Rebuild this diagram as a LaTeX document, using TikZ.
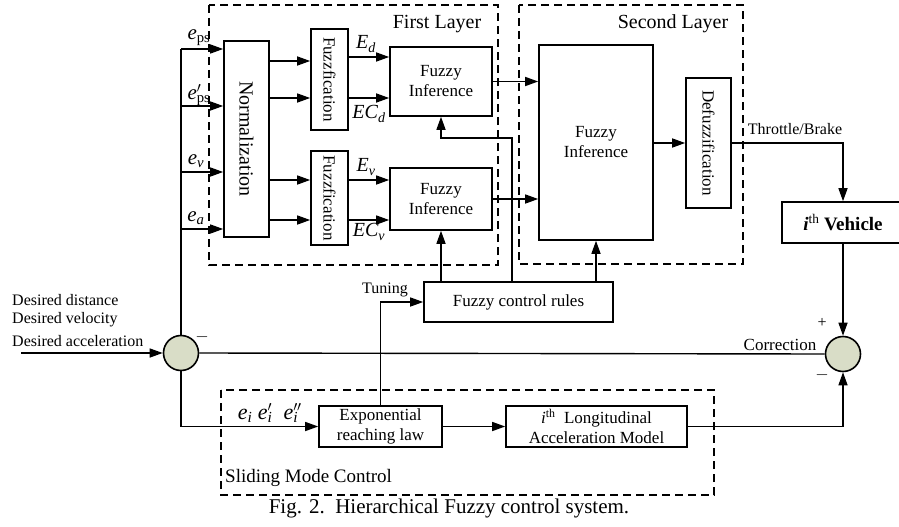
\documentclass[tikz,border=0pt]{standalone}
\usepackage{fontspec}
\setmainfont{Liberation Serif}
\usetikzlibrary{arrows.meta,calc}
\definecolor{sumfill}{RGB}{217,221,199}
\newcommand\fs[2]{\fontsize{#1}{#2}\selectfont}
\begin{document}
\begin{tikzpicture}[x=1pt,y=-1pt,
  box/.style={draw, line width=1.6pt, inner sep=0pt, align=center},
  conn/.style={line width=1.4pt},
  arr/.style={conn, -{Triangle[length=13pt,width=9pt]}},
  grp/.style={draw, line width=1.3pt, dash pattern=on 8pt off 5pt},
  sumnode/.style={draw, circle, fill=sumfill, line width=1.6pt, minimum size=35pt, inner sep=0pt},
  lbl/.style={inner sep=0pt},
]
\useasboundingbox (0,0) rectangle (899,527);

% dashed groups
\draw[grp] (209,5) rectangle (498,265);
\draw[grp] (519,5) rectangle (743,264);
\draw[grp] (221,390) rectangle (714,495);
\node[lbl, font=\fs{20}{24}] (l1) at (437,24) {First Layer};
\node[lbl, font=\fs{20}{24}] (l2) at (673,24) {Second Layer};
\node[lbl, font=\fs{19}{22}, anchor=west] (l3) at (225,478) {Sliding Mode Control};

% boxes
\node[box, minimum width=45pt, minimum height=196pt] (norm) at (246.5,139) {};
\node[lbl, rotate=-90, font=\fs{20}{24}] (normt) at (norm.center) {Normalization};
\node[box, minimum width=37pt, minimum height=101pt] (fz1) at (329.5,79.5) {};
\node[lbl, rotate=-90, font=\fs{17}{20}] (fz1t) at (fz1.center) {Fuzzfication};
\node[box, minimum width=37pt, minimum height=94pt] (fz2) at (329.5,198) {};
\node[lbl, rotate=-90, font=\fs{17}{20}] (fz2t) at (fz2.center) {Fuzzfication};
\node[box, font=\fs{17}{20}, minimum width=102pt, minimum height=69pt] (fi1) at (441,81.5) {Fuzzy\\Inference};
\node[box, font=\fs{17}{20}, minimum width=102pt, minimum height=62pt] (fi2) at (441,199) {Fuzzy\\Inference};
\node[box, font=\fs{17}{20}, minimum width=114pt, minimum height=195pt] (fi3) at (596,142.5) {Fuzzy\\Inference};
\node[box, minimum width=45pt, minimum height=130pt] (defz) at (708.5,143) {};
\node[lbl, rotate=-90, font=\fs{17}{20}] (defzt) at (defz.center) {Defuzzification};
\node[box, minimum width=122pt, minimum height=41pt] (veh) at (843,222.5) {};
\node[lbl, font=\fs{19}{22}] (veht) at (843,222.5) {\textbf{\textit{i}}\textsuperscript{th} \textbf{Vehicle}};
\node[box, font=\fs{17}{20}, minimum width=189pt, minimum height=40pt] (rules) at (518.5,302) {Fuzzy control rules};
\node[box, font=\fs{17}{20}, minimum width=123pt, minimum height=41pt] (expo) at (380.5,426.5) {Exponential\\reaching law};
\node[box, font=\fs{17}{20}, minimum width=181pt, minimum height=41pt] (lon) at (596.5,426.5) {\textit{i}\textsuperscript{th}\ \ Longitudinal\\Acceleration Model};
\node[sumnode] (s1) at (181,353) {};
\node[sumnode] (s2) at (843,354) {};

% inputs to normalization
\foreach \y/\n in {49/a,106/b,172/c,229/d}{
  \coordinate (in\n) at (181,\y);
  \draw[arr] (in\n) -- (in\n -| norm.west);
}
\draw[conn] (s1.north) -- (ina);
\node[lbl, font=\fs{21}{24}] (ea) at (199,38) {\textit{e}\textsubscript{ps}};
\node[lbl, font=\fs{21}{24}] (eb) at (199,95) {\textit{e}\rlap{$'$}\textsubscript{ps}};
\node[lbl, font=\fs{21}{24}] (ec) at (196,161) {\textit{e}\textsubscript{\textit{v}}};
\node[lbl, font=\fs{21}{24}] (ed) at (196,218) {\textit{e}\textsubscript{\textit{a}}};

% normalization to fuzzification
\foreach \y/\t in {61/fz1,98/fz1,180/fz2,220/fz2}{
  \coordinate (p) at (0,\y);
  \draw[arr] (norm.east |- p) -- (\t.west |- p);
}
% fuzzification to inference
\foreach \y/\s/\t in {57/fz1/fi1,98/fz1/fi1,180/fz2/fi2,220/fz2/fi2}{
  \coordinate (q) at (0,\y);
  \draw[arr] (\s.east |- q) -- (\t.west |- q);
}
\node[lbl, font=\fs{20}{24}] (Ed) at (366,44) {\textit{E\textsubscript{d}}};
\node[lbl, font=\fs{20}{24}] (ECd) at (369,114) {\textit{EC\textsubscript{d}}};
\node[lbl, font=\fs{20}{24}] (Ev) at (366,167) {\textit{E\textsubscript{v}}};
\node[lbl, font=\fs{20}{24}] (ECv) at (369,232) {\textit{EC\textsubscript{v}}};

% first layer to second layer
\draw[arr] (fi1.east) -- (fi1.east -| fi3.west);
\draw[arr] (fi2.east) -- (fi2.east -| fi3.west);
\draw[arr] (defz.west -| fi3.east) -- (defz.west);
\draw[arr] (defz.east) -| (veh.north);
\node[lbl, font=\fs{16}{19}] (tb) at (795,129) {Throttle/Brake};

% rules to inference blocks
\draw[arr] (rules.north -| fi2.south) -- (fi2.south);
\coordinate (k) at (512,138);
\draw[arr] (rules.north -| k) -- (k) -| (fi1.south);
\draw[arr] (rules.north -| fi3.south) -- (fi3.south);

% summation 1
\coordinate (din) at (21,353);
\draw[arr] (din) -- (s1.west);
\node[lbl, font=\fs{16}{19}, anchor=west] (d1) at (12,300) {Desired distance};
\node[lbl, font=\fs{16}{19}, anchor=west] (d2) at (12,320) {Desired velocity};
\node[lbl, font=\fs{16}{19}, anchor=west] (d3) at (12,341) {Desired acceleration};
\node[lbl, font=\fs{16}{19}] (m1) at (202,337) {$-$};
\draw[conn] (s1.east) -- (s2.west);
\node[lbl, font=\fs{17}{20}] (corr) at (780,345) {Correction};
\node[lbl, font=\fs{16}{19}] (p2) at (822,323) {+};
\node[lbl, font=\fs{16}{19}] (m2) at (822,375) {$-$};

% sliding mode
\draw[arr] (s1.south) |- (expo.west);
\node[lbl, font=\fs{22}{26}] (eis) at (268,413) {\textit{e\textsubscript{i}} \textit{e}\rlap{$'$}\textsubscript{\textit{i}}\ \ \textit{e}\rlap{$''$}\textsubscript{\textit{i}}};
\draw[arr] (expo.east) -- (lon.west);
\draw[arr] (lon.east) -| (s2.south);
\draw[arr] (expo.north) |- (rules.west);
\node[lbl, font=\fs{16}{19}] (tun) at (385,290) {Tuning};

% vehicle to summation 2
\draw[arr] (veh.south -| s2.north) -- (s2.north);

% caption
\node[lbl, font=\fs{21}{24}] (cap) at (449,508) {Fig. 2.\ \ Hierarchical Fuzzy control system.};
\end{tikzpicture}
\end{document}
